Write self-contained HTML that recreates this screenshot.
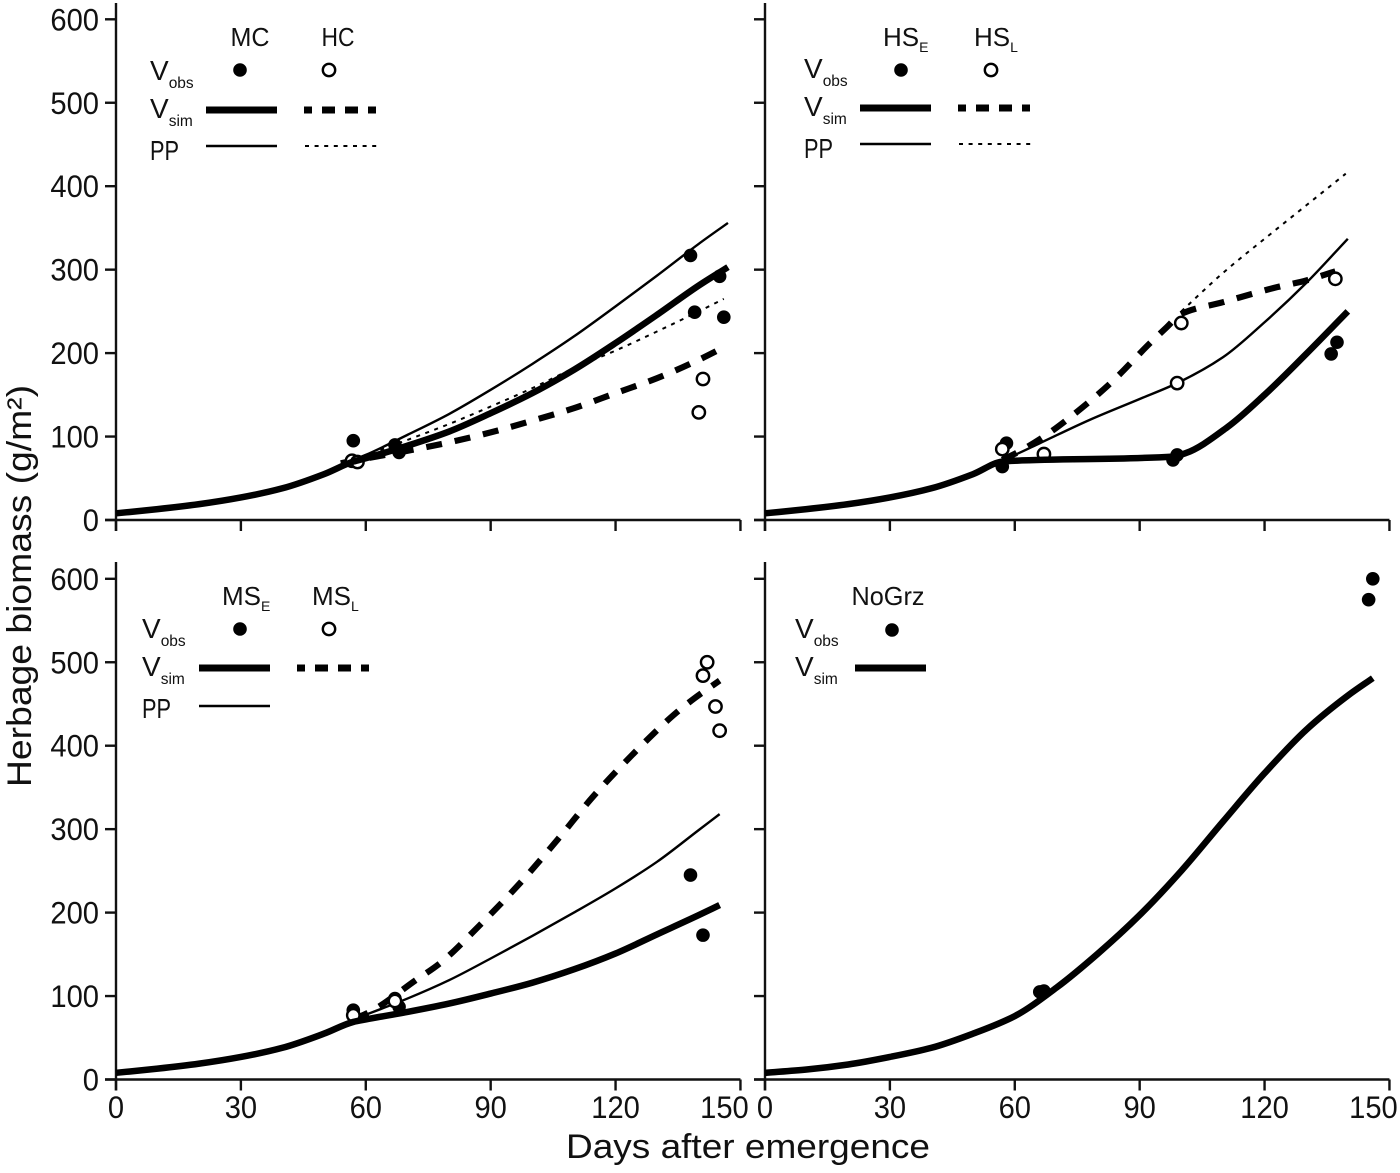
<!DOCTYPE html>
<html lang="en">
<head>
<meta charset="utf-8">
<title>Herbage biomass panels</title>
<style>
html,body{margin:0;padding:0;background:#fff;}
svg{display:block;}
text{font-family:"Liberation Sans",sans-serif;fill:#111;}
</style>
</head>
<body>
<svg id="chart" xmlns="http://www.w3.org/2000/svg" width="1400" height="1173" viewBox="0 0 1400 1173">
<rect x="0" y="0" width="1400" height="1173" fill="#fff"/>
<text transform="translate(31,586) rotate(-90)" text-anchor="middle" font-size="34" textLength="402" lengthAdjust="spacingAndGlyphs">Herbage biomass (g/m²)</text>
<text x="748" y="1158" text-anchor="middle" font-size="34" textLength="364" lengthAdjust="spacingAndGlyphs">Days after emergence</text>

<g>
<text x="250" y="46" text-anchor="middle" font-size="26" textLength="39" lengthAdjust="spacingAndGlyphs">MC</text>
<text x="338" y="46" text-anchor="middle" font-size="26" textLength="33" lengthAdjust="spacingAndGlyphs">HC</text>
<text x="150" y="80" font-size="28">V<tspan font-size="15.5" dy="8">obs</tspan></text>
<text x="150" y="118" font-size="28">V<tspan font-size="15.5" dy="8">sim</tspan></text>
<text x="150" y="160" font-size="28" textLength="29" lengthAdjust="spacingAndGlyphs">PP</text>
<circle cx="240" cy="70" r="6.8" fill="#000"/>
<circle cx="329" cy="70" r="6.2" fill="#fff" stroke="#000" stroke-width="2.4"/>
<line x1="206" x2="277" y1="110" y2="110" stroke="#000" stroke-width="7"/>
<line x1="304" x2="376" y1="110" y2="110" stroke="#000" stroke-width="7" stroke-dasharray="8 10 13 10 13 10 18"/>
<line x1="206" x2="277" y1="146" y2="146" stroke="#000" stroke-width="2.6"/>
<line x1="305" x2="377" y1="146" y2="146" stroke="#000" stroke-width="2" stroke-dasharray="4 5.6"/>
</g>

<g>
<text x="883" y="46" font-size="26">HS<tspan font-size="14" dy="6">E</tspan></text>
<text x="974" y="46" font-size="26">HS<tspan font-size="14" dy="6">L</tspan></text>
<text x="804" y="78" font-size="28">V<tspan font-size="15.5" dy="8">obs</tspan></text>
<text x="804" y="116" font-size="28">V<tspan font-size="15.5" dy="8">sim</tspan></text>
<text x="804" y="158" font-size="28" textLength="29" lengthAdjust="spacingAndGlyphs">PP</text>
<circle cx="901" cy="70" r="6.8" fill="#000"/>
<circle cx="991" cy="70" r="6.2" fill="#fff" stroke="#000" stroke-width="2.4"/>
<line x1="860" x2="931" y1="108" y2="108" stroke="#000" stroke-width="7"/>
<line x1="958" x2="1030" y1="108" y2="108" stroke="#000" stroke-width="7" stroke-dasharray="8 10 13 10 13 10 18"/>
<line x1="860" x2="931" y1="144" y2="144" stroke="#000" stroke-width="2.6"/>
<line x1="959" x2="1031" y1="144" y2="144" stroke="#000" stroke-width="2" stroke-dasharray="4 5.6"/>
</g>

<g>
<text x="222" y="605" font-size="26">MS<tspan font-size="14" dy="6">E</tspan></text>
<text x="312" y="605" font-size="26">MS<tspan font-size="14" dy="6">L</tspan></text>
<text x="142" y="638" font-size="28">V<tspan font-size="15.5" dy="8">obs</tspan></text>
<text x="142" y="676" font-size="28">V<tspan font-size="15.5" dy="8">sim</tspan></text>
<text x="142" y="718" font-size="28" textLength="29" lengthAdjust="spacingAndGlyphs">PP</text>
<circle cx="240" cy="629" r="6.8" fill="#000"/>
<circle cx="329" cy="629" r="6.2" fill="#fff" stroke="#000" stroke-width="2.4"/>
<line x1="199" x2="270" y1="668" y2="668" stroke="#000" stroke-width="7"/>
<line x1="297" x2="369" y1="668" y2="668" stroke="#000" stroke-width="7" stroke-dasharray="8 10 13 10 13 10 18"/>
<line x1="199" x2="270" y1="706" y2="706" stroke="#000" stroke-width="2.6"/>
</g>

<g>
<text x="888" y="605" text-anchor="middle" font-size="26" textLength="73" lengthAdjust="spacingAndGlyphs">NoGrz</text>
<text x="795" y="638" font-size="28">V<tspan font-size="15.5" dy="8">obs</tspan></text>
<text x="795" y="676" font-size="28">V<tspan font-size="15.5" dy="8">sim</tspan></text>
<circle cx="892" cy="630" r="6.8" fill="#000"/>
<line x1="855" x2="926" y1="668" y2="668" stroke="#000" stroke-width="7"/>
</g>
</svg>

<script>
const xTicks = [0, 30, 60, 90, 120, 150];
const yTicks = [0, 100, 200, 300, 400, 500, 600];

const mcSimDays = [0, 10, 20, 30, 40, 50, 57, 60, 70, 80, 90, 100, 110, 120, 130, 140, 147];
const mcSimValues = [8, 13, 19, 27, 38, 55, 70, 74, 89, 106, 128, 152, 180, 212, 246, 281, 303];
const mcPpDays = [57, 60, 70, 80, 90, 100, 110, 120, 130, 140, 147];
const mcPpValues = [72, 78, 102, 127, 156, 187, 220, 256, 293, 331, 356];
const hcSimDays = [54, 57, 68, 80, 90, 100, 110, 120, 130, 140, 146];
const hcSimValues = [68, 71, 81, 93, 105, 119, 134, 152, 170, 192, 207];
const hcPpDays = [57, 70, 80, 90, 100, 110, 120, 130, 140, 146];
const hcPpValues = [72, 96, 115, 136, 158, 182, 203, 226, 250, 265];
const mcObsDays = [57, 67, 68, 138, 145, 139, 146];
const mcObsValues = [95, 90, 81, 317, 292, 249, 243];
const hcObsDays = [56.7, 58, 141, 140];
const hcObsValues = [71, 69.5, 169, 129];

const hseSimDays = [0, 10, 20, 30, 40, 50, 57, 60, 98, 101, 111, 120, 130, 140];
const hseSimValues = [8, 13, 19, 27, 38, 55, 70, 71, 76, 80, 111, 150, 199, 250];
const hsePpDays = [57, 60, 66, 78, 90, 99, 110, 120, 130, 140];
const hsePpValues = [72, 78, 92, 120, 145, 164, 195, 237, 284, 337];
const hslSimDays = [57, 61, 67, 72.5, 83, 92.5, 96.5, 100, 110, 123, 130, 137];
const hslSimValues = [72, 82, 100, 120, 164, 212, 231, 247, 261, 279, 287, 298];
const hslPpDays = [100, 110, 122, 130, 139.5];
const hslPpValues = [250, 296, 345, 377, 415];
const hseObsDays = [57, 58, 98, 99, 136, 137.4];
const hseObsValues = [64, 92, 72, 78, 199, 213];
const hslObsDays = [57, 67, 99, 100, 137];
const hslObsValues = [85, 79, 164, 236, 289];

const mseSimDays = [0, 10, 20, 30, 40, 50, 57, 60, 70, 80, 90, 100, 110, 120, 130, 140, 145];
const mseSimValues = [8, 13, 19, 27, 38, 55, 69, 72, 81, 91, 103, 116, 132, 151, 174, 197, 209];
const msePpDays = [57, 70, 80, 90, 100, 110, 120, 130, 140, 145];
const msePpValues = [72, 97, 119, 145, 172, 200, 229, 261, 299, 318];
const mslSimDays = [57, 61, 72, 78, 87.4, 97, 106, 114.6, 124, 134, 139, 145];
const mslSimValues = [72, 81, 119, 140, 185, 235, 287, 339, 389, 437, 457, 478];
const mseObsDays = [57, 67, 68, 138, 141];
const mseObsValues = [83, 97, 87, 245, 173];
const mslObsDays = [57, 67, 142, 141, 144, 145];
const mslObsValues = [77, 94, 500, 484, 447, 418];

const noGrzSimDays = [0, 10, 20, 30, 40, 50, 60, 70, 80, 90, 100, 110, 120, 130, 140, 146];
const noGrzSimValues = [8, 12, 18, 27, 38, 55, 76, 110, 151, 197, 250, 309, 367, 419, 460, 481];
const noGrzObsDays = [66, 67, 145, 146];
const noGrzObsValues = [105, 106, 575, 600];

const NS = 'http://www.w3.org/2000/svg';
const svg = document.getElementById('chart');
const DAY_SCALE = 4.163;
const VALUE_SCALE = 0.8345;
const SOLID_THICK = { width: 6.5, dash: null };
const DASH_THICK = { width: 6.2, dash: '16 13' };
const SOLID_THIN = { width: 2.4, dash: null };
const DOTTED_THIN = { width: 2, dash: '4 5.6' };

function addLine(parent, x1, y1, x2, y2) {
  const el = document.createElementNS(NS, 'line');
  el.setAttribute('x1', x1);
  el.setAttribute('y1', y1);
  el.setAttribute('x2', x2);
  el.setAttribute('y2', y2);
  el.setAttribute('stroke', '#111');
  el.setAttribute('stroke-width', 2.4);
  parent.appendChild(el);
  return el;
}

function addText(parent, x, y, anchor, content) {
  const el = document.createElementNS(NS, 'text');
  el.setAttribute('x', x);
  el.setAttribute('y', y);
  el.setAttribute('text-anchor', anchor);
  el.setAttribute('font-size', 31.5);
  el.setAttribute('textLength', content.length * 16.2);
  el.setAttribute('lengthAdjust', 'spacingAndGlyphs');
  el.textContent = content;
  parent.appendChild(el);
  return el;
}

function drawPanel(name, x0, y0, axisTop, showYLabels, showXLabels) {
  const panel = document.createElementNS(NS, 'g');
  
  
  svg.appendChild(panel);
  const px = d => x0 + d * DAY_SCALE;
  const py = v => y0 - v * VALUE_SCALE;

  const yAxis = addLine(panel, x0, axisTop, x0, y0 + 11);
  
  
  const xAxis = addLine(panel, x0 - 11, y0, px(xTicks[xTicks.length - 1]), y0);
  
  

  yTicks.forEach(v => {
    const tick = addLine(panel, x0 - 11, py(v), x0, py(v));
    
    
    if (showYLabels) {
      const label = addText(panel, x0 - 17, py(v) + 11, 'end', String(v));
      
      
    }
  });

  xTicks.forEach((d, i) => {
    const tick = addLine(panel, px(d), y0, px(d), y0 + 11);
    
    
    if (showXLabels) {
      const isLast = i === xTicks.length - 1;
      const label = addText(panel, isLast ? px(d) - 16 : px(d), y0 + 38.5, 'middle', String(d));
      
      
    }
  });
  return { panel, px, py };
}

/* Monotone cubic through the pixel points: weighted-harmonic tangents keep
   uneven spacing from wobbling and leave real corners (grazing onset) sharp. */
function smoothPath(pts) {
  const n = pts.length;
  const h = [];
  const s = [];
  for (let i = 0; i < n - 1; i++) {
    h.push(pts[i + 1][0] - pts[i][0]);
    s.push((pts[i + 1][1] - pts[i][1]) / h[i]);
  }
  const m = [s[0]];
  for (let i = 1; i < n - 1; i++) {
    if (s[i - 1] * s[i] <= 0) {
      m.push(0);
    } else {
      const w1 = 2 * h[i] + h[i - 1];
      const w2 = h[i] + 2 * h[i - 1];
      m.push((w1 + w2) / (w1 / s[i - 1] + w2 / s[i]));
    }
  }
  m.push(s[n - 2]);
  let path = 'M' + pts[0][0] + ' ' + pts[0][1];
  for (let i = 0; i < n - 1; i++) {
    const c1x = pts[i][0] + h[i] / 3;
    const c1y = pts[i][1] + m[i] * h[i] / 3;
    const c2x = pts[i + 1][0] - h[i] / 3;
    const c2y = pts[i + 1][1] - m[i + 1] * h[i] / 3;
    path += ' C' + c1x + ' ' + c1y + ' ' + c2x + ' ' + c2y + ' ' + pts[i + 1][0] + ' ' + pts[i + 1][1];
  }
  return path;
}

function drawSeries(target, name, days, values, style) {
  const el = document.createElementNS(NS, 'path');
  
  
  el.setAttribute('d', smoothPath(days.map((d, i) => [target.px(d), target.py(values[i])])));
  el.setAttribute('fill', 'none');
  el.setAttribute('stroke', '#000');
  el.setAttribute('stroke-width', style.width);
  el.setAttribute('stroke-linejoin', 'round');
  if (style.dash) {
    el.setAttribute('stroke-dasharray', style.dash);
  }
  target.panel.appendChild(el);
}

function drawPoints(target, name, days, values, open) {
  days.forEach((d, i) => {
    const el = document.createElementNS(NS, 'circle');
    
    
    el.setAttribute('cx', target.px(d));
    el.setAttribute('cy', target.py(values[i]));
    el.setAttribute('r', open ? 6.2 : 6.8);
    el.setAttribute('fill', open ? '#fff' : '#000');
    if (open) {
      el.setAttribute('stroke', '#000');
      el.setAttribute('stroke-width', 2.4);
    }
    target.panel.appendChild(el);
  });
}

const topLeft = drawPanel('panel-top-left', 116, 520, 3, true, false);
drawSeries(topLeft, 'line-mc-pp', mcPpDays, mcPpValues, SOLID_THIN);
drawSeries(topLeft, 'line-hc-pp', hcPpDays, hcPpValues, DOTTED_THIN);
drawSeries(topLeft, 'line-hc-sim', hcSimDays, hcSimValues, DASH_THICK);
drawPoints(topLeft, 'point-mc-obs', mcObsDays, mcObsValues, false);
drawPoints(topLeft, 'point-hc-obs', hcObsDays, hcObsValues, true);
drawSeries(topLeft, 'line-mc-sim', mcSimDays, mcSimValues, SOLID_THICK);

const topRight = drawPanel('panel-top-right', 765, 520, 3, false, false);
drawSeries(topRight, 'line-hse-pp', hsePpDays, hsePpValues, SOLID_THIN);
drawSeries(topRight, 'line-hsl-pp', hslPpDays, hslPpValues, DOTTED_THIN);
drawSeries(topRight, 'line-hsl-sim', hslSimDays, hslSimValues, DASH_THICK);
drawPoints(topRight, 'point-hse-obs', hseObsDays, hseObsValues, false);
drawPoints(topRight, 'point-hsl-obs', hslObsDays, hslObsValues, true);
drawSeries(topRight, 'line-hse-sim', hseSimDays, hseSimValues, SOLID_THICK);

const bottomLeft = drawPanel('panel-bottom-left', 116, 1079.5, 562, true, true);
drawSeries(bottomLeft, 'line-mse-pp', msePpDays, msePpValues, SOLID_THIN);
drawSeries(bottomLeft, 'line-msl-sim', mslSimDays, mslSimValues, DASH_THICK);
drawPoints(bottomLeft, 'point-mse-obs', mseObsDays, mseObsValues, false);
drawPoints(bottomLeft, 'point-msl-obs', mslObsDays, mslObsValues, true);
drawSeries(bottomLeft, 'line-mse-sim', mseSimDays, mseSimValues, SOLID_THICK);

const bottomRight = drawPanel('panel-bottom-right', 765, 1079.5, 562, false, true);
drawSeries(bottomRight, 'line-nogrz-sim', noGrzSimDays, noGrzSimValues, SOLID_THICK);
drawPoints(bottomRight, 'point-nogrz-obs', noGrzObsDays, noGrzObsValues, false);
</script>
</body>
</html>
